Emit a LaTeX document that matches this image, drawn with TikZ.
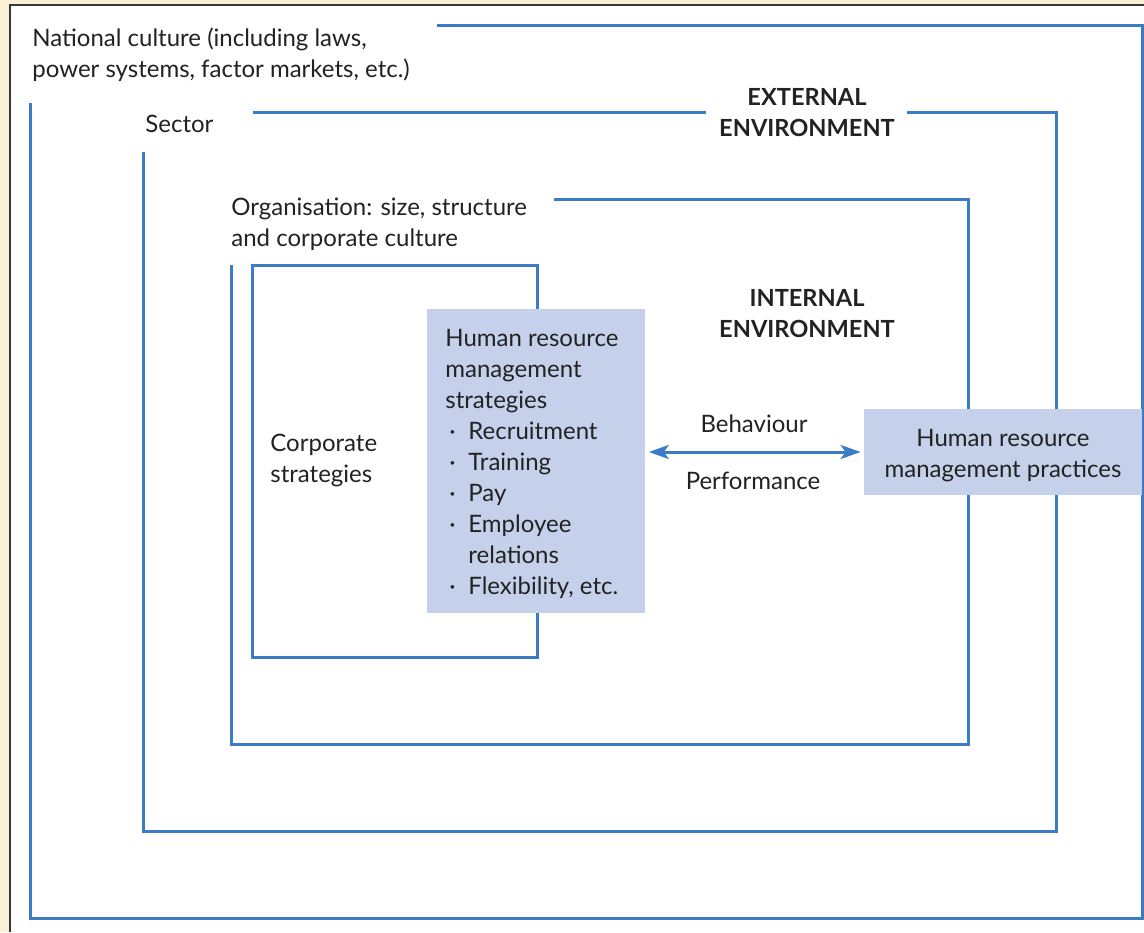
\documentclass[tikz,border=0pt]{standalone}
\usepackage{fontspec}
\setmainfont{Lato}
\usepackage{tikz}
\usetikzlibrary{arrows.meta}

\definecolor{cream}{HTML}{FAF0D4}
\definecolor{frameblue}{HTML}{3A7DC4}
\definecolor{boxblue}{HTML}{C5D1EB}
\definecolor{inkgray}{HTML}{222222}
\newcommand{\bulitem}[1]{\makebox[11.5pt][l]{\,\textperiodcentered}#1}

\begin{document}
\begin{tikzpicture}[x=0.5pt, y=-0.5pt,
        frame/.style={draw=frameblue, line width=1.5pt},
        txt/.style={inner sep=0pt, text=inkgray, font=\fontsize{12}{15.5}\selectfont},
        heading/.style={txt, align=center, font=\fontsize{11.8}{15.5}\selectfont\bfseries},
        fillbox/.style={fill=boxblue, inner sep=0pt}]
        \useasboundingbox (0,0) rectangle (1144,932);
        % page
        \fill[cream] (0,0) rectangle (1144,932);
        \fill[white] (10,5) rectangle (1144,932);
        \draw[inkgray!90, line width=0.75pt] (10,932) -- (10,5) -- (1144,5);

        % nested environments
        \draw[frame] (437,25) -| (1142,918) -| (30,103);
        \draw[frame] (907,112) -| (1056,831) -| (143,152);
        \draw[frame] (253,112) -- (706,112);
        \draw[frame] (554,199) -| (968,744) -| (231,265);
        \draw[frame] (252,265) rectangle (537,657);

        % boxes
        \node[fillbox, anchor=north west, minimum width=109pt, minimum height=152pt] (strat) at (427,309) {};
        \node[txt, anchor=west, align=left] (strattxt) at (445,464)
              {Human resource\\ management\\ strategies\\
               \bulitem{Recruitment}\\ \bulitem{Training}\\ \bulitem{Pay}\\
               \bulitem{Employee}\\ \hspace*{11.5pt}relations\\ \bulitem{Flexibility, etc.}};
        \node[fillbox, minimum width=139pt, minimum height=43pt] (prac) at (1003,452) {};
        \node[txt, align=center] (practxt) at (1003,456) {Human resource\\ management practices};

        \draw[frameblue, line width=1.5pt, {Stealth[length=10pt, width=7pt, inset=2.5pt]}-{Stealth[length=10pt, width=7pt, inset=2.5pt]},
              shorten <=1.5pt, shorten >=1.5pt] (prac.west -| strat.east) -- (prac.west);

        % labels
        \node[txt, anchor=west, align=left] (natl) at (32,54.5) {National culture (including laws,\\ power systems, factor markets, etc.)};
        \node[txt, anchor=west] (sector) at (145,124) {Sector};
        \node[heading] (ext) at (807,113) {EXTERNAL\\ ENVIRONMENT};
        \node[txt, anchor=west, align=left] (org) at (231,224.5) {Organisation: size, structure\\ and corporate culture};
        \node[heading] (int) at (807,314) {INTERNAL\\ ENVIRONMENT};
        \node[txt, anchor=west, align=left] (corp) at (270,460.5) {Corporate\\ strategies};
        \node[txt] (behav) at (754,424) {Behaviour};
        \node[txt] (perf) at (753,481) {Performance};
\end{tikzpicture}
\end{document}
